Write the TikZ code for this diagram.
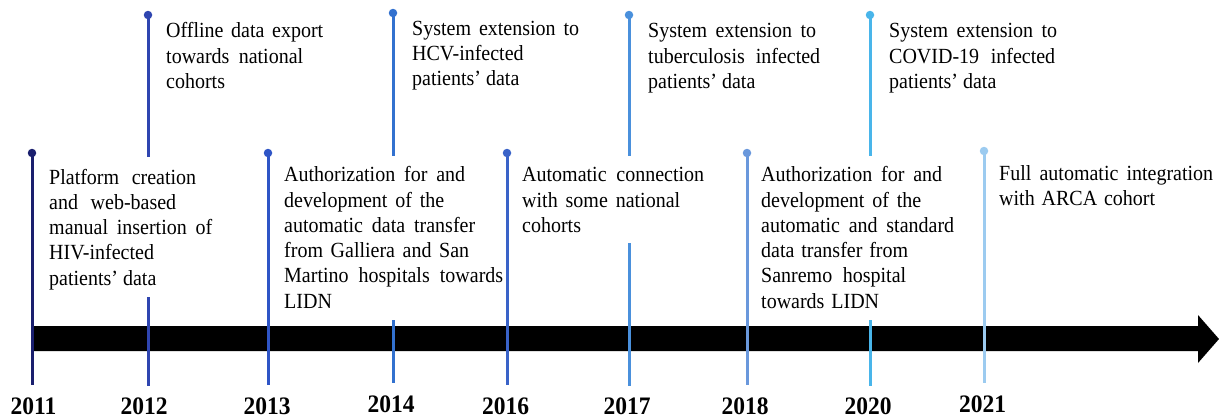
\documentclass[tikz,border=0pt]{standalone}
\usepackage{graphicx}
\usepackage{fontspec}
\setmainfont{Liberation Serif}
\newcommand{\jl}[2]{\makebox[#1pt][s]{#2}}
\newcommand{\evpar}[1]{\scalebox{1}[1.08]{\parbox[t]{260pt}{\fontsize{20}{23.43}\selectfont\raggedright #1}}}
\newcommand{\yr}[1]{\scalebox{1}[1.07]{#1}}
\definecolor{c11}{HTML}{1A1F6E}
\definecolor{c12}{HTML}{2F45B0}
\definecolor{c13}{HTML}{2F55C6}
\definecolor{c14}{HTML}{3271CF}
\definecolor{c16}{HTML}{3A63C8}
\definecolor{c17}{HTML}{4A90DC}
\definecolor{c18}{HTML}{6A98DC}
\definecolor{c20}{HTML}{49B5EA}
\definecolor{c21}{HTML}{9CCBF0}
\tikzset{
  evdot/.style={circle, fill, inner sep=0pt, minimum size=8.5pt},
  evline/.style={line width=3pt},
  evtext/.style={anchor=base west, inner sep=0pt, text=black},
  yearlabel/.style={font=\fontsize{23.5}{28}\selectfont\bfseries, anchor=base, inner sep=0pt, text depth=0pt, text=black},
}
\begin{document}
\begin{tikzpicture}[x=1pt,y=-1pt]
\useasboundingbox (0,0) rectangle (1219,418);
% timeline arrow
\coordinate (atip) at (1219,339);
\fill[black] (32,326) -- (1198,326) -- (1198,315) -- (atip) -- (1198,363) -- (1198,351) -- (32,351) -- cycle;

% 2011
\node[evdot, c11] (d11) at (32,153) {};
\coordinate (b11) at (32,385);
\draw[evline, c11] (d11.center) -- (b11);
% 2012
\node[evdot, c12] (d12) at (148,15) {};
\coordinate (m12a) at (148,157);
\coordinate (m12b) at (148,297);
\coordinate (b12) at (148,386);
\draw[evline, c12] (d12.center) -- (m12a) (m12b) -- (b12);
% 2013
\node[evdot, c13] (d13) at (268,153) {};
\coordinate (b13) at (268,385);
\draw[evline, c13] (d13.center) -- (b13);
% 2014
\node[evdot, c14] (d14) at (393,13) {};
\coordinate (m14a) at (393,156);
\coordinate (m14b) at (393,320);
\coordinate (b14) at (393,383);
\draw[evline, c14] (d14.center) -- (m14a) (m14b) -- (b14);
% 2016
\node[evdot, c16] (d16) at (507,153) {};
\coordinate (b16) at (507,385);
\draw[evline, c16] (d16.center) -- (b16);
% 2017
\node[evdot, c17] (d17) at (629,15) {};
\coordinate (m17a) at (629,156);
\coordinate (m17b) at (629,243);
\coordinate (b17) at (629,386);
\draw[evline, c17] (d17.center) -- (m17a) (m17b) -- (b17);
% 2018
\node[evdot, c18] (d18) at (747,153) {};
\coordinate (b18) at (747,385);
\draw[evline, c18] (d18.center) -- (b18);
% 2020
\node[evdot, c20] (d20) at (870,15) {};
\coordinate (m20a) at (870,156);
\coordinate (m20b) at (870,320);
\coordinate (b20) at (870,386);
\draw[evline, c20] (d20.center) -- (m20a) (m20b) -- (b20);
% 2021
\node[evdot, c21] (d21) at (984,151) {};
\coordinate (b21) at (984,383);
\draw[evline, c21] (d21.center) -- (b21);

% years
\node[yearlabel] (y11) at (33.5,414) {\yr{2011}};
\node[yearlabel] (y12) at (144,414) {\yr{2012}};
\node[yearlabel] (y13) at (267,414) {\yr{2013}};
\node[yearlabel] (y14) at (391,412) {\yr{2014}};
\node[yearlabel] (y16) at (505.5,414) {\yr{2016}};
\node[yearlabel] (y17) at (627,414) {\yr{2017}};
\node[yearlabel] (y18) at (745,414) {\yr{2018}};
\node[yearlabel] (y20) at (868,414) {\yr{2020}};
\node[yearlabel] (y21) at (982.5,412) {\yr{2021}};

% event texts
\node[evtext] (t11) at (49,184) {\evpar{\jl{147}{Platform creation}\\ \jl{127}{and web-based}\\ \jl{163}{manual insertion of}\\ HIV-infected\\ patients’ data}};
\node[evtext] (t12) at (166,37.7) {\evpar{\jl{157}{Offline data export}\\ \jl{137}{towards national}\\ cohorts}};
\node[evtext] (t13) at (284,181.7) {\evpar{\jl{181}{Authorization for and}\\ \jl{160}{development of the}\\ \jl{191}{automatic data transfer}\\ \jl{185}{from Galliera and San}\\ \jl{219}{Martino hospitals towards}\\ LIDN}};
\node[evtext] (t14) at (412,35) {\evpar{\jl{167}{System extension to}\\ HCV-infected\\ patients’ data}};
\node[evtext] (t16) at (522,181.7) {\evpar{\jl{182}{Automatic connection}\\ \jl{158}{with some national}\\ cohorts}};
\node[evtext] (t17) at (648,37.7) {\evpar{\jl{168}{System extension to}\\ \jl{172}{tuberculosis infected}\\ patients’ data}};
\node[evtext] (t18) at (761,181.7) {\evpar{\jl{181}{Authorization for and}\\ \jl{160}{development of the}\\ \jl{193}{automatic and standard}\\ \jl{147}{data transfer from}\\ \jl{145}{Sanremo hospital}\\ \jl{118}{towards LIDN}}};
\node[evtext] (t20) at (889,37.7) {\evpar{\jl{168}{System extension to}\\ \jl{166}{COVID-19 infected}\\ patients’ data}};
\node[evtext] (t21) at (999,180) {\evpar{\jl{214}{Full automatic integration}\\ \jl{156}{with ARCA cohort}}};
\end{tikzpicture}
\end{document}
